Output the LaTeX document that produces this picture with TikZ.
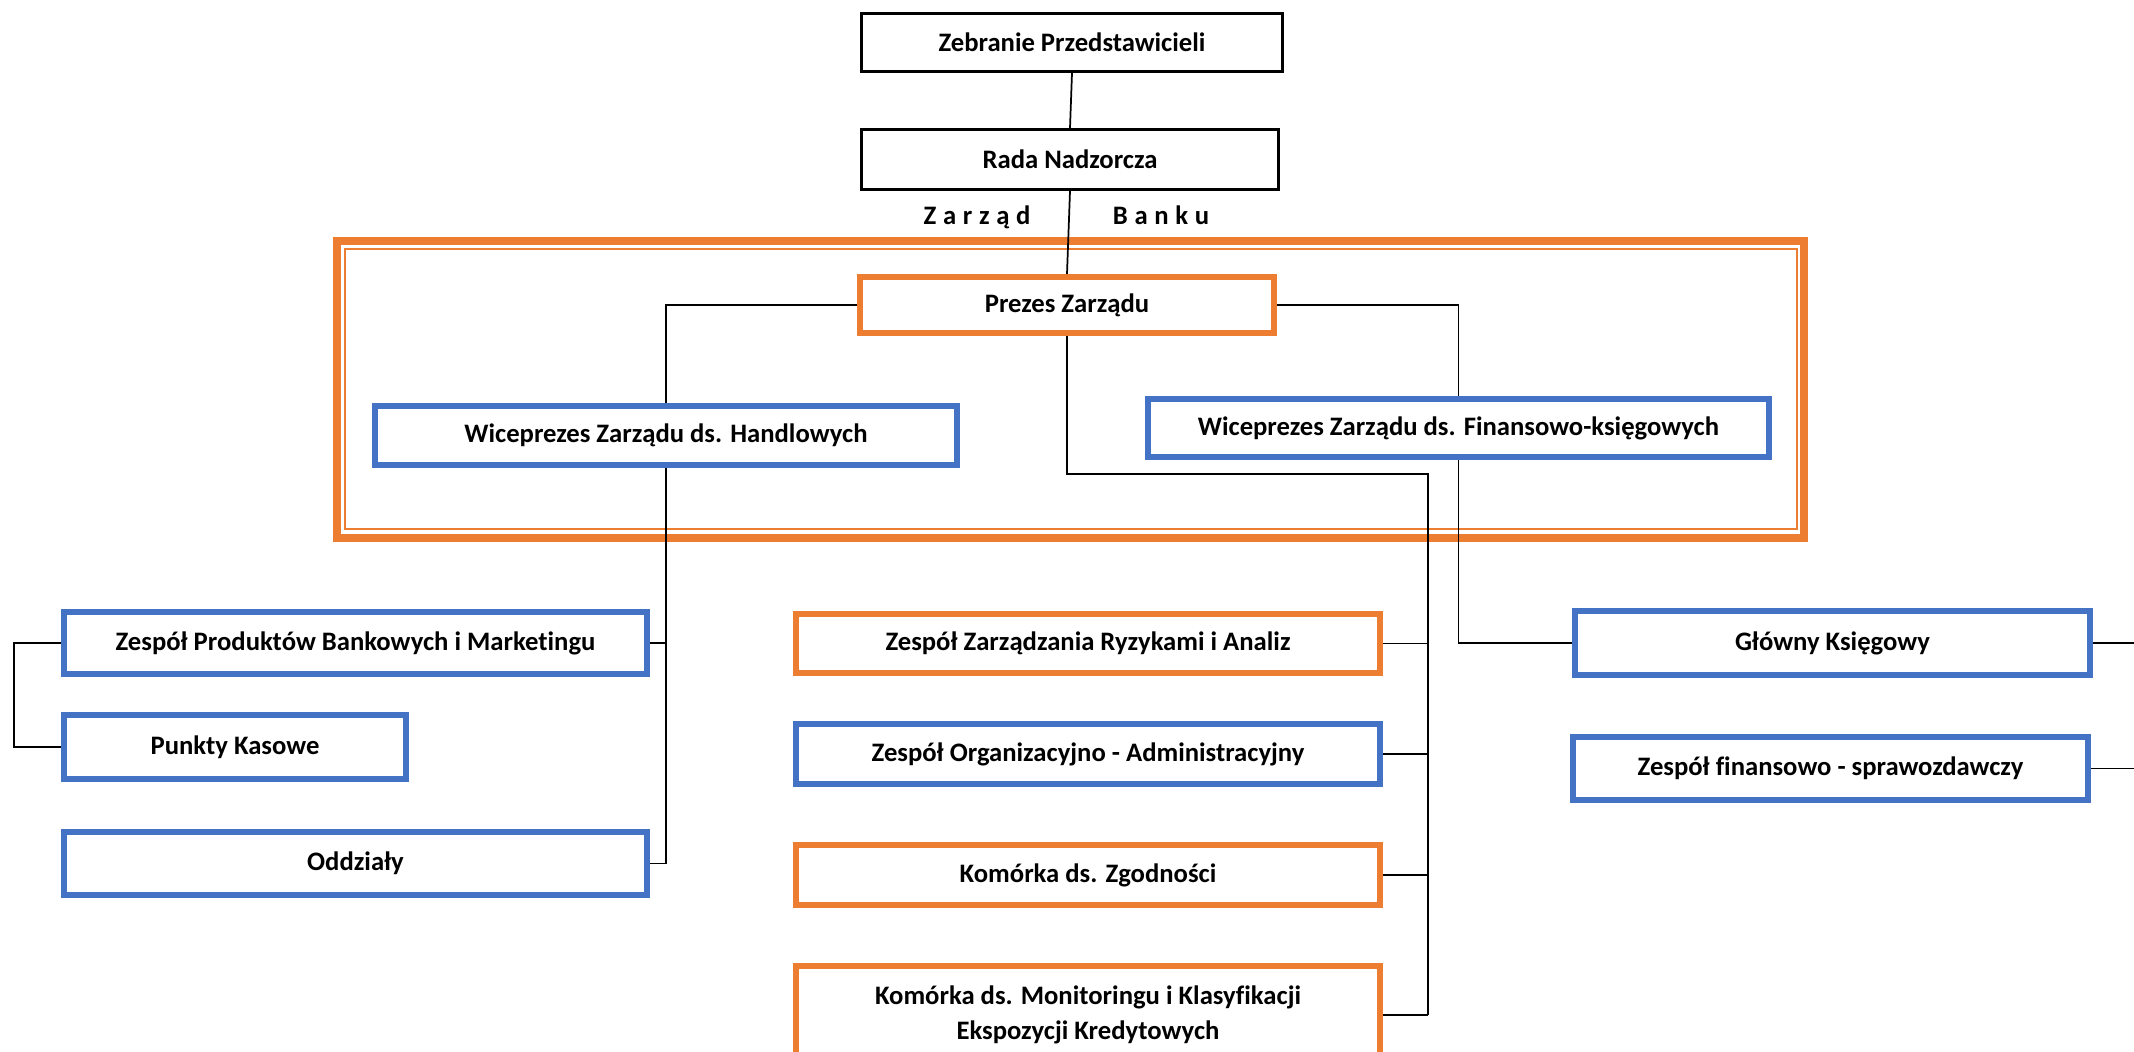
\documentclass[tikz,border=0pt]{standalone}
\usepackage{fontspec}
\setmainfont{Carlito}[Ligatures=NoCommon]
\definecolor{orng}{HTML}{ED7D31}
\definecolor{blu}{HTML}{4472C4}
\tikzset{
  box/.style={draw, rectangle, fill=white, inner sep=0pt, align=center,
    font=\bfseries\fontsize{20}{26.5}\selectfont},
  blk/.style={box, draw=black, line width=2.25pt},
  ob/.style={box, draw=orng, line width=4.5pt},
  bb/.style={box, draw=blu, line width=4.5pt},
  conn/.style={draw=black, line width=1.3pt},
  lbl/.style={font=\bfseries\fontsize{20}{24}\selectfont, inner sep=0pt, anchor=base}
}
\newcommand\lsp{\hspace{5pt}}
\begin{document}
\begin{tikzpicture}[x=0.75pt,y=-0.75pt]
\clip (0,0) rectangle (2134,1051);
\fill[white] (0,0) rectangle (2134,1051);
% frame
\draw[orng, line width=6pt] (337,241) rectangle (1804,537.5);
\draw[orng, line width=1.5pt] (345,248.5) rectangle (1797,529);
% nodes
\node[blk, minimum width=421*0.75pt, minimum height=58*0.75pt] (zeb) at (1072,42.5) {Zebranie Przedstawicieli};
\node[blk, minimum width=417*0.75pt, minimum height=60*0.75pt] (rada) at (1070,159.5) {Rada Nadzorcza};
\node[lbl] (zar) at (977,224) {Z\lsp a\lsp r\lsp z\lsp ą\lsp d};
\node[lbl] (ban) at (1161,224) {B\lsp a\lsp n\lsp k\lsp u};
\node[ob, minimum width=414*0.75pt, minimum height=56*0.75pt] (prez) at (1067,305) {Prezes Zarządu};
\node[bb, minimum width=582*0.75pt, minimum height=59*0.75pt] (vh) at (666,435.5) {Wiceprezes Zarządu ds. Handlowych};
\node[bb, minimum width=621*0.75pt, minimum height=58*0.75pt] (vf) at (1458.5,428) {Wiceprezes Zarządu ds. Finansowo-księgowych};
\node[bb, minimum width=583*0.75pt, minimum height=62*0.75pt] (zpb) at (355.5,643) {Zespół Produktów Bankowych i Marketingu};
\node[bb, minimum width=342*0.75pt, minimum height=64*0.75pt] (pk) at (235,747) {Punkty Kasowe};
\node[bb, minimum width=583*0.75pt, minimum height=63*0.75pt] (odd) at (355.5,863.5) {Oddziały};
\node[ob, minimum width=584*0.75pt, minimum height=59*0.75pt] (zzr) at (1088,643.5) {Zespół Zarządzania Ryzykami i Analiz};
\node[bb, minimum width=584*0.75pt, minimum height=60*0.75pt] (zoa) at (1088,754) {Zespół Organizacyjno - Administracyjny};
\node[ob, minimum width=584*0.75pt, minimum height=60*0.75pt] (kz) at (1088,875) {Komórka ds. Zgodności};
\node[ob, minimum width=584*0.75pt, minimum height=98*0.75pt] (km) at (1088,1015) {Komórka ds. Monitoringu i Klasyfikacji\\Ekspozycji Kredytowych};
\node[bb, minimum width=515*0.75pt, minimum height=64*0.75pt] (gk) at (1832.5,643) {Główny Księgowy};
\node[bb, minimum width=515*0.75pt, minimum height=63*0.75pt] (zfs) at (1830.5,768.5) {Zespół finansowo - sprawozdawczy};
% helper coordinates
\coordinate (mv) at (1428,474);
\coordinate (lb) at (14,643);
\coordinate (e1) at (2134,643);
\coordinate (e2) at (2134,768.5);
% connectors
\draw[conn] (zeb.south) -- (rada.north);
\draw[conn] (rada.south) -- (prez.north);
\draw[conn] (prez.west) -| (vh.north);
\draw[conn] (prez.east) -| (vf.north);
\draw[conn] (prez.south) |- (mv) -- (mv |- km.east);
\draw[conn] (zzr.east) -- (zzr.east -| mv);
\draw[conn] (zoa.east) -- (zoa.east -| mv);
\draw[conn] (kz.east) -- (kz.east -| mv);
\draw[conn] (km.east) -- (km.east -| mv);
\draw[conn] (vh.south) -- (vh.south |- odd.east);
\draw[conn] (zpb.east) -- (zpb.east -| vh.south);
\draw[conn] (odd.east) -- (odd.east -| vh.south);
\draw[conn] (zpb.west) -- (lb) |- (pk.west);
\draw[conn] (vf.south) |- (gk.west);
\draw[conn] (gk.east) -- (e1);
\draw[conn] (zfs.east) -- (e2);
\end{tikzpicture}
\end{document}
